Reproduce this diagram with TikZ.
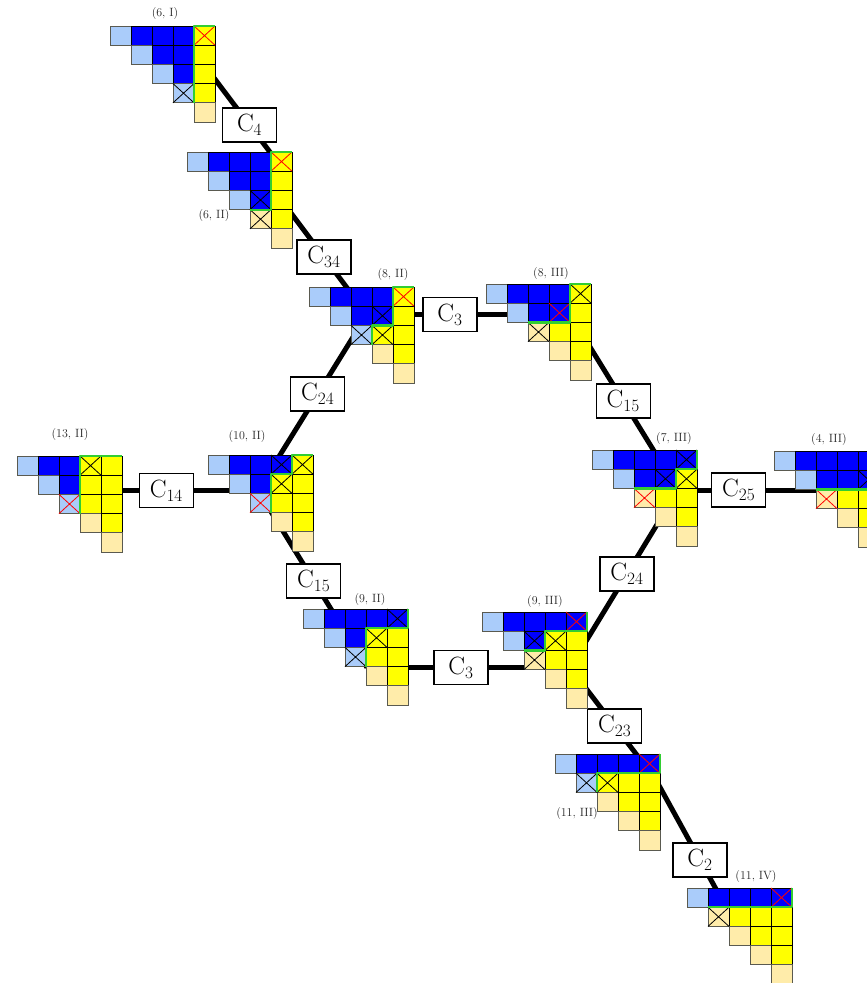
\documentclass[tikz,border=0pt]{standalone}
\definecolor{tblue}{RGB}{0,0,255}
\definecolor{tlblue}{RGB}{170,204,250}
\definecolor{tyellow}{RGB}{255,255,0}
\definecolor{tlyellow}{RGB}{255,236,170}
\definecolor{tgray}{RGB}{90,90,80}
\definecolor{tgreen}{RGB}{50,205,50}
\tikzset{
  bcell/.style={fill=tblue,draw=black,line width=0.9pt},
  lbcell/.style={fill=tlblue,draw=tgray,line width=0.9pt},
  ycell/.style={fill=tyellow,draw=black,line width=0.9pt},
  lycell/.style={fill=tlyellow,draw=tgray,line width=0.9pt},
  xline/.style={line width=0.8pt},
  gline/.style={draw=tgreen,line width=2.2pt,line join=round},
  conn/.style={line width=5pt},
  cbox/.style={draw,fill=white,line width=1.3pt,minimum width=54pt,minimum height=34pt,inner sep=0pt,font=\fontsize{25}{25}\selectfont},
  tlab/.style={text=black!85,inner sep=0pt,font=\fontsize{12}{14}\selectfont}
}
\newcommand{\tabx}[5]{%
  \begin{scope}[shift={(#1,#2)},x=21pt,y=-19.2pt]
    \foreach \bb [count=\r from 0] in {#3}{
      \foreach \c in {\r,...,4}{
        \pgfmathtruncatemacro{\rel}{\c-\r}
        \ifnum\rel<\bb\relax
          \ifnum\c=\r\relax \def\cs{lbcell}\else\def\cs{bcell}\fi
        \else
          \ifnum\c=\r\relax \def\cs{lycell}\else\def\cs{ycell}\fi
        \fi
        \path[\cs] (\c,\r) rectangle ++(1,1);
      }
    }
    \foreach \r/\c/\col in {#4}{
      \draw[xline,\col] (\c,\r) -- ++(1,1) (\c+1,\r) -- ++(-1,1);
    }
    \draw[gline] #5;
  \end{scope}
}
\begin{document}
\begin{tikzpicture}[x=1pt,y=-1pt]
\useasboundingbox (0,0) rectangle (867,983);
\clip (0,0) rectangle (867,983);
% anchors
\coordinate (t6Ia) at (205,66);
\coordinate (t6IIa) at (285,172);
\coordinate (t6IIb) at (270,185);
\coordinate (t8II) at (367,314.5);
\coordinate (t8III) at (570,314.5);
\coordinate (t7III) at (678,490);
\coordinate (t4III) at (840,490);
\coordinate (t9III) at (570,667.5);
\coordinate (t9II) at (367,667.5);
\coordinate (t10II) at (258,490.5);
\coordinate (t13II) at (69,490.5);
\coordinate (t11III) at (656,780);
\coordinate (t11IV) at (722,900);
% connectors
\draw[conn] (t6Ia) -- node[cbox,pos=0.557]{C$_{4}$} (t6IIa);
\draw[conn] (t6IIb) -- node[cbox,pos=0.556]{C$_{34}$} (t8II);
\draw[conn] (t8II) -- node[cbox,pos=0.409]{C$_{3}$} (t8III);
\draw[conn] (t8II) -- node[cbox,pos=0.452]{C$_{24}$} (t10II);
\draw[conn] (t8III) -- node[cbox,pos=0.493]{C$_{15}$} (t7III);
\draw[conn] (t13II) -- node[cbox,pos=0.515]{C$_{14}$} (t10II);
\draw[conn] (t7III) -- node[cbox,pos=0.375]{C$_{25}$} (t4III);
\draw[conn] (t10II) -- node[cbox,pos=0.511]{C$_{15}$} (t9II);
\draw[conn] (t7III) -- node[cbox,pos=0.473]{C$_{24}$} (t9III);
\draw[conn] (t9II) -- node[cbox,pos=0.463]{C$_{3}$} (t9III);
\draw[conn] (t9III) -- node[cbox,pos=0.52]{C$_{23}$} (t11III);
\draw[conn] (t11III) -- node[cbox,pos=0.667]{C$_{2}$} (t11IV);
% tableaux
\tabx{110}{26}{4,3,2,1,0}{0/4/red,3/3/black}{(5,0)--(4,0)--(4,4)}
\tabx{187}{152}{4,3,2,0,0}{0/4/red,2/3/black,3/3/black}{(5,0)--(4,0)--(4,3)--(3,3)}
\tabx{309}{287}{4,3,1,0,0}{0/4/red,1/3/black,2/2/black,2/3/black}{(5,0)--(4,0)--(4,2)--(3,2)--(3,3)}
\tabx{486}{284}{4,3,0,0,0}{0/4/black,1/3/red,2/2/black}{(5,0)--(4,0)--(4,2)--(2,2)}
\tabx{17}{456}{3,2,1,0,0}{0/3/black,2/2/red}{(5,0)--(3,0)--(3,3)}
\tabx{208}{455}{4,2,1,0,0}{0/3/black,0/4/black,1/3/black,2/2/red}{(5,0)--(4,0)--(4,1)--(3,1)--(3,3)}
\tabx{592}{450}{5,3,0,0,0}{0/4/black,1/3/black,1/4/black,2/2/red}{(5,0)--(5,1)--(4,1)--(4,2)--(2,2)}
\tabx{774}{451}{5,4,0,0,0}{1/4/black,2/2/red}{(5,0)--(5,2)--(2,2)}
\tabx{303}{609}{5,2,1,0,0}{0/4/black,1/3/black,2/2/black}{(5,0)--(5,1)--(3,1)--(3,3)}
\tabx{482}{612}{5,2,0,0,0}{0/4/red,1/2/black,1/3/black,2/2/black}{(5,0)--(5,1)--(3,1)--(3,2)--(2,2)}
\tabx{555}{754}{5,1,0,0,0}{0/4/red,1/1/black,1/2/black}{(5,0)--(5,1)--(2,1)--(2,2)}
\tabx{687}{888}{5,0,0,0,0}{0/4/red,1/1/black}{(5,0)--(5,1)--(1,1)}
% labels
\node[tlab] (l6I) at (165,14) {(6, I)};
\node[tlab] (l6II) at (214,216) {(6, II)};
\node[tlab] (l8II) at (393,275) {(8, II)};
\node[tlab] (l8III) at (551,274) {(8, III)};
\node[tlab] (l13II) at (70,434) {(13, II)};
\node[tlab] (l10II) at (247,436) {(10, II)};
\node[tlab] (l7III) at (674,438) {(7, III)};
\node[tlab] (l4III) at (829,439) {(4, III)};
\node[tlab] (l9II) at (370,599) {(9, II)};
\node[tlab] (l9III) at (545,601) {(9, III)};
\node[tlab] (l11III) at (577,813) {(11, III)};
\node[tlab] (l11IV) at (756,876) {(11, IV)};
\end{tikzpicture}
\end{document}
